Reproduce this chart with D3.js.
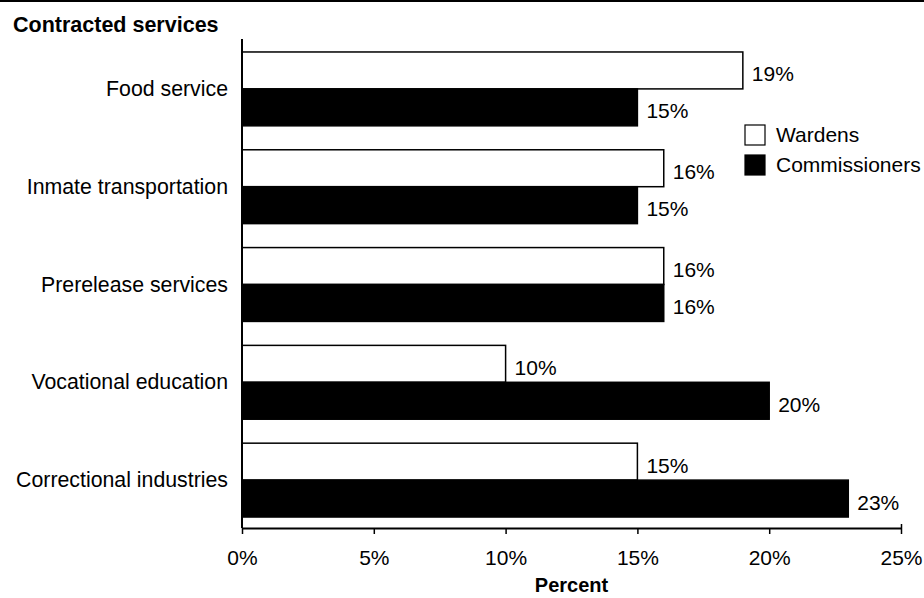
<!DOCTYPE html>
<html>
<head>
<meta charset="utf-8">
<script src="https://cdn.jsdelivr.net/npm/d3@7"></script>
<style>
  body { margin: 0; background: #fff; }
  svg { display: block; }
  text { font-family: "Liberation Sans", Arial, Helvetica, sans-serif; fill: #000; }
</style>
</head>
<body>
<svg id="chart" width="924" height="598"></svg>
<script>
const categories = ["Food service", "Inmate transportation", "Prerelease services", "Vocational education", "Correctional industries"];
const seriesNames = ["Wardens", "Commissioners"];
const wardens = [19, 16, 16, 10, 15];
const commissioners = [15, 15, 16, 20, 23];
const xTicks = [0, 5, 10, 15, 20, 25];
const title = "Contracted services";
const xTitle = "Percent";

const svg = d3.select("#chart");
const fillColor = { "Wardens": "#fff", "Commissioners": "#000" };
const seriesValues = { "Wardens": wardens, "Commissioners": commissioners };

const x = d3.scaleLinear().domain([0, 25]).range([242, 901]);
const y = d3.scaleBand().domain(categories).range([40, 529])
  .paddingInner(24 / 98).paddingOuter(12 / 98);
const ySub = d3.scaleBand().domain(seriesNames).range([0, y.bandwidth()]);

// top rule
svg.append("line").attr("x1", 0).attr("x2", 924).attr("y1", 1).attr("y2", 1)
  .attr("stroke", "#000").attr("stroke-width", 2);

// title
svg.append("text").attr("x", 13).attr("y", 32)
  .attr("font-size", 21.5).attr("font-weight", "bold").text(title);

// bars
const groups = svg.append("g").selectAll("g").data(categories).join("g")
  .attr("transform", d => `translate(0,${y(d)})`);

seriesNames.forEach(s => {
  groups.append("rect")
    .attr("x", x(0))
    .attr("y", ySub(s))
    .attr("width", (d, i) => x(seriesValues[s][i]) - x(0))
    .attr("height", ySub.bandwidth())
    .attr("fill", fillColor[s])
    .attr("stroke", "#000")
    .attr("stroke-width", 1.5);
  groups.append("text")
    .attr("x", (d, i) => x(seriesValues[s][i]) + 9)
    .attr("y", ySub(s) + ySub.bandwidth() / 2 + 11)
    .attr("font-size", 21)
    .text((d, i) => seriesValues[s][i] + "%");
});

// category labels
svg.append("g").selectAll("text").data(categories).join("text")
  .attr("x", 228)
  .attr("y", d => y(d) + y.bandwidth() / 2 + 7)
  .attr("text-anchor", "end")
  .attr("font-size", 21.3)
  .text(d => d);

// y axis line
const yAxisBottom = 528;
svg.append("line").attr("x1", x(0)).attr("x2", x(0)).attr("y1", 39).attr("y2", yAxisBottom)
  .attr("stroke", "#000").attr("stroke-width", 2);

// x axis
const xAxis = d3.axisBottom(x).tickValues(xTicks).tickFormat(d => d + "%")
  .tickSizeInner(6).tickSizeOuter(0).tickPadding(16);
const gx = svg.append("g").attr("transform", `translate(0,${yAxisBottom})`).call(xAxis);
gx.select(".domain").attr("stroke-width", 2);
gx.selectAll(".tick line").attr("stroke-width", 1.5).attr("y1", d => d === 25 ? -4 : 0);
gx.selectAll(".tick text").attr("font-size", 21)
  .attr("font-family", "'Liberation Sans', Arial, Helvetica, sans-serif");

svg.append("text").attr("x", x(12.5)).attr("y", 592).attr("text-anchor", "middle")
  .attr("font-size", 20).attr("font-weight", "bold").text(xTitle);

// legend
const legend = svg.append("g").selectAll("g").data(seriesNames).join("g")
  .attr("transform", (d, i) => `translate(745,${125 + i * 30})`);
legend.append("rect").attr("width", 20).attr("height", 20)
  .attr("fill", d => fillColor[d]).attr("stroke", "#000").attr("stroke-width", 1.2);
legend.append("text").attr("x", 31).attr("y", 17)
  .attr("font-size", 21).text(d => d);
</script>
</body>
</html>
